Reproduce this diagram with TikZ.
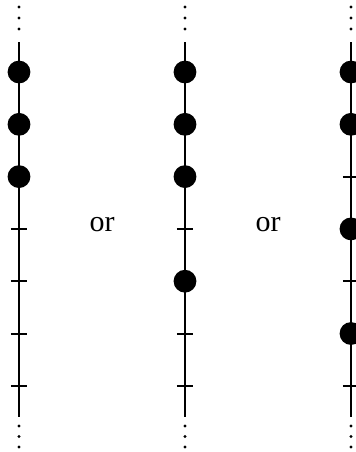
\documentclass[tikz,border=0pt]{standalone}
\usepackage{fontspec}
\setmainfont{Liberation Serif}
\usetikzlibrary{positioning}

\begin{document}
\begin{tikzpicture}[
    x=0.5pt, y=-0.5pt,
    rail/.style={line width=1.3pt},
    bead/.style={circle, fill=black, inner sep=0pt, minimum size=11.4pt},
    notch/.style={inner sep=0pt, minimum width=7.6pt, minimum height=0pt},
    dotmark/.style={circle, fill=black, inner sep=0pt, minimum size=1.7pt},
    lab/.style={inner sep=0pt, font=\fontsize{15}{18}\selectfont}]
  \useasboundingbox (0,0) rectangle (356,452);
  \foreach \col/\xx/\beads/\notches in {l/19/{1,2,3}/{4,5,6,7}, m/185/{1,2,3,5}/{4,6,7}, r/351/{1,2,4,6}/{3,5,7}} {
    \coordinate (\col top) at (\xx,42);
    \coordinate (\col bot) at (\xx,417);
    \draw[rail] (\col top) -- (\col bot);
    \foreach \k in \notches {
      \node[notch] (\col\k) at (\xx,{72+52.3*(\k-1)}) {};
      \draw[line width=1pt] (\col\k.west) -- (\col\k.east);
    }
    \foreach \k in \beads { \node[bead] (\col\k) at (\xx,{72+52.3*(\k-1)}) {}; }
    % dots above and below
    \foreach \d in {0,1,2} {
      \node[dotmark] (\col u\d) at (\xx,{7+11*\d}) {};
      \node[dotmark] (\col d\d) at (\xx,{426+10.5*\d}) {};
    }
  }
  \node[lab] (or1) at (102,225) {or};
  \node[lab] (or2) at (268,225) {or};
\end{tikzpicture}
\end{document}
